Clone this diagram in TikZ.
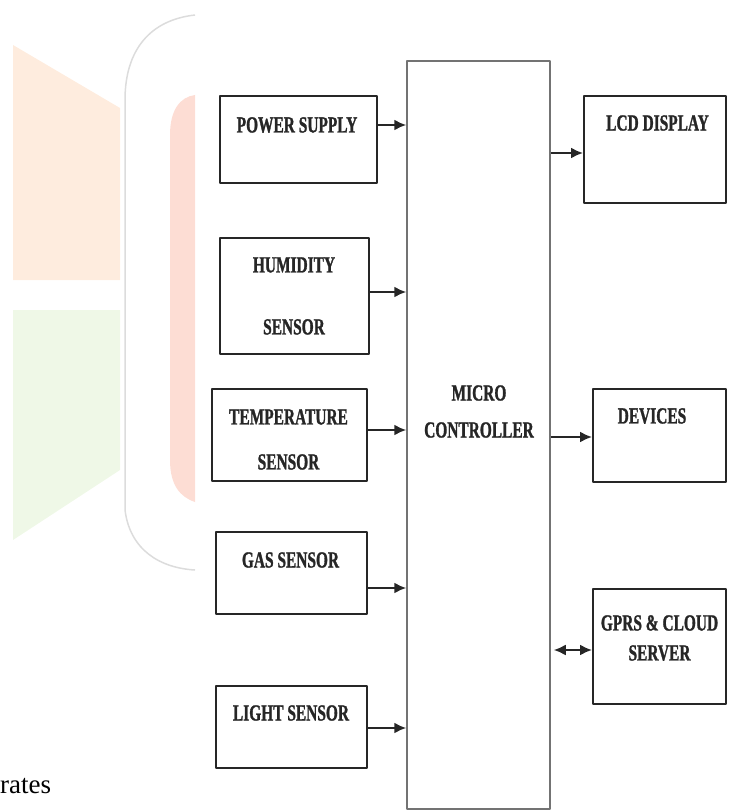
\documentclass[tikz,border=0pt]{standalone}
\usepackage{fontspec}
\setmainfont{Liberation Serif}
\newfontfamily\blockfont[FakeStretch=0.67,FakeBold=1.2]{Liberation Serif}
\usetikzlibrary{arrows.meta}

\definecolor{wmorange}{RGB}{254,236,222}
\definecolor{wmgreen}{RGB}{239,248,231}
\definecolor{wmpink}{RGB}{253,221,212}
\definecolor{wmgray}{RGB}{220,220,220}

\begin{document}
\begin{tikzpicture}[x=1pt,y=-1pt,line join=round,>={Latex[length=12pt,width=11pt]},
    blk/.style={draw=black!85,line width=2pt,inner sep=0pt},
    mcubox/.style={draw=black!55,line width=1.5pt,inner sep=0pt},
    txt/.style={font=\blockfont\bfseries\fontsize{23}{26}\selectfont,align=center,inner sep=0pt,text=black!85},
    conn/.style={line width=2pt,draw=black!85}]
	\useasboundingbox (0,0) rectangle (728,810);
	\fill[wmorange] (13,45) -- (120,108) -- (120,280) -- (13,280) -- cycle;
	\fill[wmgreen] (13,310) -- (120,310) -- (120,470) -- (13,540) -- cycle;
	\fill[wmpink] (195,95) .. controls (180,97) and (170,110) .. (170,135) -- (170,460) .. controls (170,485) and (180,497) .. (195,502) -- cycle;
	\draw[wmgray,line width=1.5pt] (195,15) .. controls (150,20) and (125,50) .. (125,100) -- (125,510) .. controls (130,550) and (160,568) .. (195,570);
	\node[font=\fontsize{27}{30}\selectfont,anchor=west,inner sep=0pt] (frag) at (0,786) {rates};

	\node[mcubox,minimum width=143pt,minimum height=748pt] (mcu) at (478.5,435) {};
	\node[txt] (mcutxt) at (479,411.5) {MICRO\\[11pt]CONTROLLER};

	\node[blk,minimum width=157pt,minimum height=87pt] (pwr) at (298.5,139.5) {};
	\node[txt] (pwrtxt) at (297,125) {POWER SUPPLY};
	\node[blk,minimum width=149pt,minimum height=116pt] (hum) at (294.5,296) {};
	\node[txt] (humtxt) at (294,296) {HUMIDITY\\[36pt]SENSOR};
	\node[blk,minimum width=155pt,minimum height=92pt] (tmp) at (289.5,435) {};
	\node[txt] (tmptxt) at (288.5,439.5) {TEMPERATURE\\[19pt]SENSOR};
	\node[blk,minimum width=151pt,minimum height=82pt] (gas) at (291.5,573) {};
	\node[txt] (gastxt) at (290.5,560) {GAS SENSOR};
	\node[blk,minimum width=151pt,minimum height=82pt] (lgt) at (291.5,727) {};
	\node[txt] (lgttxt) at (291,713) {LIGHT SENSOR};

	\node[blk,minimum width=142pt,minimum height=107pt] (lcd) at (655,149.5) {};
	\node[txt] (lcdtxt) at (657.5,123) {LCD DISPLAY};
	\node[blk,minimum width=133pt,minimum height=93pt] (dev) at (659.5,435.5) {};
	\node[txt] (devtxt) at (652,416) {DEVICES};
	\node[blk,minimum width=133pt,minimum height=115pt] (gprs) at (659.5,646.5) {};
	\node[txt] (gprstxt) at (659.5,638) {GPRS \& CLOUD\\[4pt]SERVER};

	\draw[conn,->] (pwr.east |- 0,125) -- (mcu.west |- 0,125);
	\draw[conn,->] (hum.east |- 0,292) -- (mcu.west |- 0,292);
	\draw[conn,->] (tmp.east |- 0,430) -- (mcu.west |- 0,430);
	\draw[conn,->] (gas.east |- 0,588) -- (mcu.west |- 0,588);
	\draw[conn,->] (lgt.east |- 0,728) -- (mcu.west |- 0,728);
	\draw[conn,->] (mcu.east |- 0,153) -- (lcd.west |- 0,153);
	\draw[conn,->] (mcu.east |- 0,437) -- (dev.west |- 0,437);
	\draw[conn,<->,shorten <=3pt] (mcu.east |- 0,650) -- (gprs.west |- 0,650);
\end{tikzpicture}
\end{document}
